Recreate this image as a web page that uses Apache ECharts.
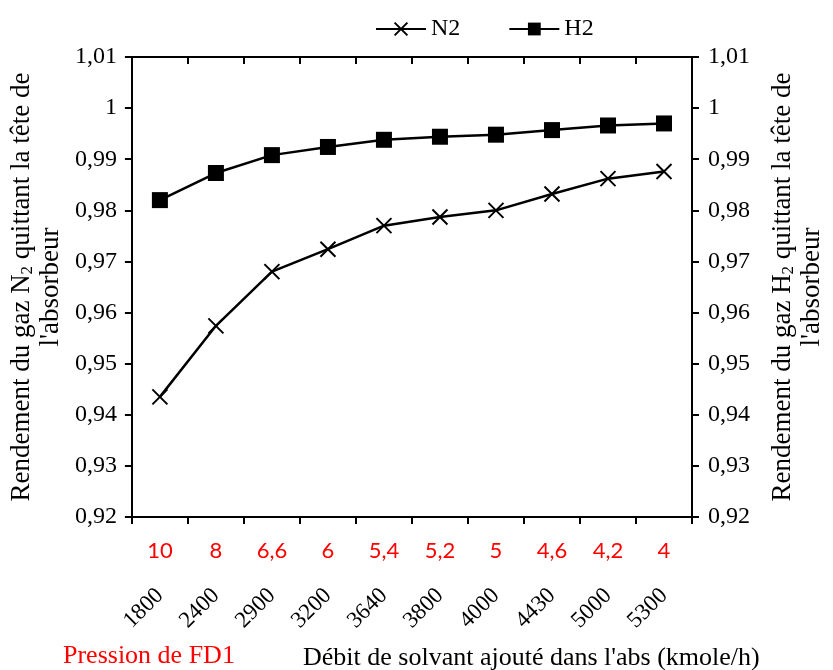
<!DOCTYPE html>
<html>
<head>
<meta charset="utf-8">
<script src="https://cdn.jsdelivr.net/npm/echarts@6/dist/echarts.min.js"></script>
<style>
html,body{margin:0;padding:0;background:#fff;}
#c{width:833px;height:670px;}
</style>
</head>
<body>
<div id="c"></div>
<script>
var debits = ['1800','2400','2900','3200','3640','3800','4000','4430','5000','5300'];
var pressions = ['10','8','6,6','6','5,4','5,2','5','4,6','4,2','4'];
var n2 = [0.9435, 0.9574, 0.9680, 0.9724, 0.9770, 0.9787, 0.9800, 0.9832, 0.9862, 0.9876];
var h2 = [0.9820, 0.9873, 0.9908, 0.9924, 0.9938, 0.9944, 0.9948, 0.9957, 0.9966, 0.9970];
var yMin = 0.92, yMax = 1.01, yStep = 0.01;

var SERIF = '"Liberation Serif", "Times New Roman", serif';
var chart = echarts.init(document.getElementById('c'));
function fmt(v){ return (Math.round(v*100)/100).toString().replace('.', ','); }
var crossPath = 'path://M0,0L10,10M10,0L0,10';
var axisLine = {show:true, lineStyle:{color:'#000', width:2}};
var richName = {
  a:{fontFamily:SERIF, fontSize:27, color:'#000', lineHeight:29},
  s:{fontFamily:SERIF, fontSize:17, color:'#000', lineHeight:16, verticalAlign:'bottom'}
};
function yAxisCfg(pos, gas, gap, margin){
  return {
    type:'value', position:pos, min:yMin, max:yMax, interval:yStep,
    axisLine:axisLine,
    axisTick:{show:true, inside:false, length:7, lineStyle:{color:'#000', width:2}},
    splitLine:{show:false},
    axisLabel:{fontFamily:SERIF, fontSize:24, color:'#000', margin:margin, formatter:fmt},
    name:'{a|Rendement du gaz '+gas+'}{s|2}{a| quittant la tête de}\n{a|l\'absorbeur}',
    nameLocation:'middle', nameRotate:90, nameGap:gap,
    nameTextStyle:{rich:richName, align:'center'}
  };
}
var option = {
  animation:false,
  backgroundColor:'#fff',
  grid:{left:127, right:125, top:57, bottom:153, containLabel:false},
  legend:{
    top:12, left:370, itemWidth:50, itemHeight:16, itemGap:48,
    textStyle:{fontFamily:SERIF, fontSize:24, color:'#000'},
    data:['N2','H2']
  },
  xAxis:[
    {type:'category', position:'bottom', data:debits, boundaryGap:true,
     axisLine:{show:false}, axisTick:{show:false},
     axisLabel:{interval:0, rotate:45, margin:75, fontFamily:SERIF, fontSize:23, color:'#000'}},
    {type:'category', position:'bottom', data:pressions, boundaryGap:true,
     axisLine:axisLine,
     axisTick:{show:true, inside:false, length:7, interval:0, lineStyle:{color:'#000', width:2}},
     axisLabel:{interval:0, margin:23, fontFamily:'Lato, "Open Sans", sans-serif', fontSize:22, color:'#ff0000'}},
    {type:'category', position:'top', data:debits, boundaryGap:true,
     axisLine:axisLine,
     axisTick:{show:true, inside:true, length:7, interval:0, lineStyle:{color:'#000', width:2}},
     axisLabel:{show:false}}
  ],
  yAxis:[ yAxisCfg('left','N', 63, 15), yAxisCfg('right','H', 76, 16) ],
  graphic:[
    {type:'text', left:63, top:643, style:{text:'Pression de FD1', fontFamily:SERIF, fontSize:26, fill:'#ff0000'}},
    {type:'text', left:303, top:645, style:{text:"Débit de solvant ajouté dans l'abs (kmole/h)", fontFamily:SERIF, fontSize:26, fill:'#000'}}
  ],
  series:[
    {name:'N2', type:'line', xAxisIndex:0, yAxisIndex:0, data:n2,
     symbol:crossPath, symbolSize:15,
     lineStyle:{color:'#000', width:2.5},
     itemStyle:{color:'#000', borderColor:'#000', borderWidth:2}},
    {name:'H2', type:'line', xAxisIndex:0, yAxisIndex:1, data:h2,
     symbol:'rect', symbolSize:16,
     lineStyle:{color:'#000', width:2.5},
     itemStyle:{color:'#000', borderColor:'#000', borderWidth:0}}
  ]
};
chart.setOption(option);
</script>
</body>
</html>
